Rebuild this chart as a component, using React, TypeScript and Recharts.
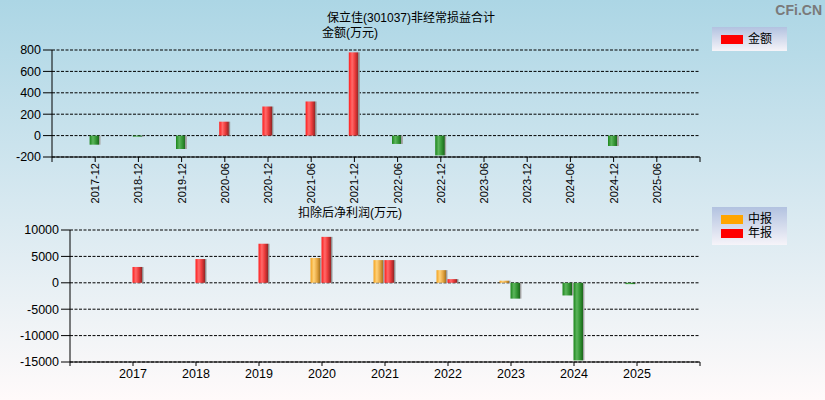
import React from 'react';
import { BarChart, Bar, XAxis, YAxis, CartesianGrid, Cell } from 'recharts';

// ---------- data ----------
const topCategories = ['2017-12', '2018-12', '2019-12', '2020-06', '2020-12', '2021-06', '2021-12', '2022-06', '2022-12', '2023-06', '2023-12', '2024-06', '2024-12', '2025-06'];
const topValues: (number | null)[] = [-85, -10, -125, 130, 272, 319, 778, -78, -185, null, null, null, -97, null];
const topYTicks = [-200, 0, 200, 400, 600, 800];

const bottomYears = [2017, 2018, 2019, 2020, 2021, 2022, 2023, 2024, 2025];
const interimValues: (number | null)[] = [null, null, null, 4700, 4300, 2400, 400, -2400, -250];
const annualValues: (number | null)[] = [3000, 4500, 7400, 8700, 4300, 700, -3000, -14700, null];
const bottomYTicks = [-15000, -10000, -5000, 0, 5000, 10000];

const topTitle = '保立佳(301037)非经常损益合计';
const topSubtitle = '金额(万元)';
const bottomSubtitle = '扣除后净利润(万元)';
const topLegend = ['金额'];
const bottomLegend = ['中报', '年报'];

const FONT = "'Liberation Sans', Arial, 'Noto Sans CJK SC', sans-serif";

const topData = topCategories.map((c, i) => ({ pos: i + 1, label: c, value: topValues[i] }));
const bottomData = bottomYears.map((y, i) => ({ year: y, interim: interimValues[i], annual: annualValues[i] }));

const topXTicks = Array.from({ length: topCategories.length + 2 }, (_, i) => i);
const bottomXTicks = [bottomYears[0] - 1, ...bottomYears, bottomYears[bottomYears.length - 1] + 1];

const Gradients = () => (
  <defs>
    <linearGradient id="gRed" x1="0" y1="0" x2="1" y2="0">
      <stop offset="0" stopColor="#ff1c1c" />
      <stop offset="0.3" stopColor="#ff6a6a" />
      <stop offset="0.55" stopColor="#ee3c3c" />
      <stop offset="0.84" stopColor="#9c2626" />
      <stop offset="0.86" stopColor="#8a8a8a" />
      <stop offset="1" stopColor="#9a9a9a" />
    </linearGradient>
    <linearGradient id="gGreen" x1="0" y1="0" x2="1" y2="0">
      <stop offset="0" stopColor="#1b861b" />
      <stop offset="0.3" stopColor="#5cb45c" />
      <stop offset="0.55" stopColor="#379a37" />
      <stop offset="0.84" stopColor="#1c6a1c" />
      <stop offset="0.86" stopColor="#9a9a9a" />
      <stop offset="1" stopColor="#b0b0b0" />
    </linearGradient>
    <linearGradient id="gOrange" x1="0" y1="0" x2="1" y2="0">
      <stop offset="0" stopColor="#f3a21e" />
      <stop offset="0.3" stopColor="#ffd27a" />
      <stop offset="0.6" stopColor="#e5a540" />
      <stop offset="0.86" stopColor="#a87520" />
      <stop offset="0.88" stopColor="#9a9a9a" />
      <stop offset="1" stopColor="#a8a8a8" />
    </linearGradient>
  </defs>
);

const TopTick = (props: any) => {
  const { x, y, payload } = props;
  const item = topData.find((d) => d.pos === payload.value);
  if (!item) return <g />;
  return (
    <text
      x={x}
      y={y}
      transform={`rotate(-90 ${x} ${y})`}
      textAnchor="end"
      dy="0.36em"
      fontSize={11}
      fill="#000"
      fontFamily={FONT}
    >
      {item.label}
    </text>
  );
};

const bottomTickFmt = (v: number) => (bottomYears.includes(v) ? String(v) : '');

const axisStyle = { stroke: '#000', strokeWidth: 1 };

const Legend = ({ top, items, colors, height }: { top: number; items: string[]; colors: string[]; height: number }) => (
  <div
    style={{
      position: 'absolute',
      left: 712,
      top,
      width: 75,
      height,
      background: 'linear-gradient(to bottom, #b2c2e0, #f6f4f9)',
    }}
  >
    {items.map((t, i) => (
      <div key={t} style={{ position: 'absolute', left: 9, top: 6 + i * 14, height: 12, display: 'flex', alignItems: 'center' }}>
        <div style={{ width: 22, height: 9, background: colors[i] }} />
        <span style={{ marginLeft: 5, fontSize: 12, lineHeight: '12px', fontFamily: FONT, color: '#000' }}>{t}</span>
      </div>
    ))}
  </div>
);

export default function App() {
  return (
    <div
      style={{
        position: 'absolute',
        left: 0,
        top: 0,
        width: 825,
        height: 400,
        overflow: 'hidden',
        background: 'linear-gradient(to bottom, #acd6e5 0%, #d6e8f0 50%, #fffafa 100%)',
        fontFamily: FONT,
      }}
    >
      <div style={{ position: 'absolute', left: 0, top: 0 }}>
        <BarChart width={825} height={215} data={topData} margin={{ top: 50, right: 125, left: 0, bottom: 0 }}>
          <Gradients />
          <CartesianGrid vertical={false} stroke="#000" strokeDasharray="3 1.5" />
          <XAxis
            dataKey="pos"
            type="number"
            domain={[0, topCategories.length + 1]}
            ticks={topXTicks}
            interval={0}
            height={58}
            axisLine={axisStyle}
            tickLine={axisStyle}
            tickSize={5}
            tickMargin={1}
            tick={<TopTick />}
          />
          <YAxis
            type="number"
            domain={[-200, 800]}
            ticks={topYTicks}
            interval={0}
            width={52}
            allowDataOverflow
            axisLine={axisStyle}
            tickLine={axisStyle}
            tickSize={9}
            tickMargin={2}
            tick={{ fill: '#000', fontSize: 12.5, fontFamily: FONT }}
          />
          <Bar dataKey="value" barSize={11} isAnimationActive={false}>
            {topData.map((d, i) => (
              <Cell key={i} fill={(d.value ?? 0) >= 0 ? 'url(#gRed)' : 'url(#gGreen)'} />
            ))}
          </Bar>
        </BarChart>
      </div>

      <div style={{ position: 'absolute', left: 0, top: 200 }}>
        <BarChart width={825} height={200} data={bottomData} margin={{ top: 30, right: 125, left: 0, bottom: 0 }} barGap={0}>
          <Gradients />
          <CartesianGrid vertical={false} stroke="#000" strokeDasharray="3 1.5" />
          <XAxis
            dataKey="year"
            type="number"
            domain={[bottomXTicks[0], bottomXTicks[bottomXTicks.length - 1]]}
            ticks={bottomXTicks}
            interval={0}
            height={38}
            axisLine={axisStyle}
            tickLine={axisStyle}
            tickSize={4}
            tickMargin={3}
            tickFormatter={bottomTickFmt}
            tick={{ fill: '#000', fontSize: 12.5, fontFamily: FONT }}
          />
          <YAxis
            type="number"
            domain={[-15000, 10000]}
            ticks={bottomYTicks}
            interval={0}
            width={70}
            allowDataOverflow
            axisLine={axisStyle}
            tickLine={axisStyle}
            tickSize={9}
            tickMargin={2}
            tick={{ fill: '#000', fontSize: 12.5, fontFamily: FONT }}
          />
          <Bar dataKey="interim" barSize={11} isAnimationActive={false}>
            {bottomData.map((d, i) => (
              <Cell key={i} fill={(d.interim ?? 0) >= 0 ? 'url(#gOrange)' : 'url(#gGreen)'} />
            ))}
          </Bar>
          <Bar dataKey="annual" barSize={11} isAnimationActive={false}>
            {bottomData.map((d, i) => (
              <Cell key={i} fill={(d.annual ?? 0) >= 0 ? 'url(#gRed)' : 'url(#gGreen)'} />
            ))}
          </Bar>
        </BarChart>
      </div>

      <svg width={825} height={400} style={{ position: 'absolute', left: 0, top: 0, pointerEvents: 'none' }}>
        <text x={411} y={22} textAnchor="middle" fontSize={12} fill="#000" fontFamily={FONT}>{topTitle}</text>
        <text x={322} y={37} textAnchor="start" fontSize={12} fill="#000" fontFamily={FONT}>{topSubtitle}</text>
        <text x={298} y={217} textAnchor="start" fontSize={12} fill="#000" fontFamily={FONT}>{bottomSubtitle}</text>
        <text x={822} y={15} textAnchor="end" fontSize={14} fontWeight="bold" fill="#7a7a7a" fontFamily={FONT}>CFi.CN</text>
      </svg>

      <Legend top={27} height={24} items={topLegend} colors={['#ff0000']} />
      <Legend top={207} height={38} items={bottomLegend} colors={['#ffa500', '#ff0000']} />
    </div>
  );
}
